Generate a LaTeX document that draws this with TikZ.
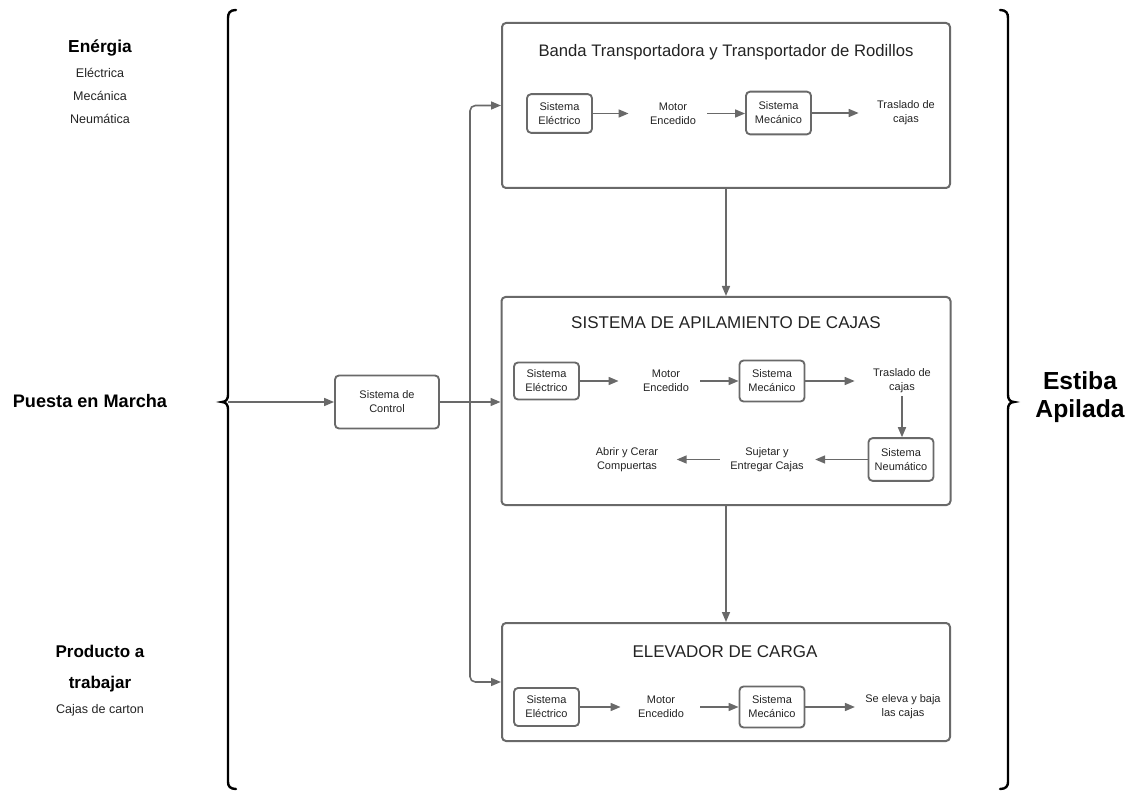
\documentclass[tikz,border=0pt]{standalone}
\usepackage{fontspec}
\setmainfont{Liberation Sans}
\usetikzlibrary{arrows.meta}

\definecolor{linegray}{RGB}{105,105,105}
\definecolor{txtgray}{RGB}{35,35,35}

\newcommand{\txtS}{\fontsize{8.25}{10.5}\selectfont}
\newcommand{\txtT}{\fontsize{12.75}{15}\selectfont}

\tikzset{every picture/.style={line width=0.75pt}}
\tikzset{
  bigbox/.style={draw=linegray, line width=1.5pt, rounded corners=3pt, inner sep=0pt},
  sysbox/.style={draw=linegray, line width=1.4pt, rounded corners=3pt, align=center,
    minimum width=48.75pt, minimum height=29pt, inner sep=0.75pt, font=\txtS, text=txtgray},
  plaintxt/.style={align=center, inner sep=0pt, font=\txtS, text=txtgray},
  titletxt/.style={inner sep=0.75pt, font=\txtT, text=txtgray},
  flow/.style={draw=linegray, line width=1.2pt, -{Triangle[length=7.5pt,width=6pt]}},
  brace/.style={draw=black, line width=1.8pt, line cap=round}
}

\begin{document}
\begin{tikzpicture}[x=0.75pt,y=0.75pt,yscale=-1.0,xscale=1.0]
    \useasboundingbox (0,0) rectangle (1135,791);

    % Left column
    \node [font=\fontsize{13}{15}\selectfont\bfseries] (energia) at (100,48) {Enérgia};
    \node [align=center, font=\fontsize{9.4}{17.25}\selectfont, text=txtgray] (tipos) at (100,96) {Eléctrica\\Mecánica\\Neumática};
    \node [font=\fontsize{13.6}{15}\selectfont\bfseries] (puesta) at (90,401) {Puesta en Marcha};
    \node [align=center, font=\fontsize{12.75}{23.25}\selectfont\bfseries] (producto) at (100,669) {Producto a\\trabajar};
    \node [font=\fontsize{9.4}{12}\selectfont, text=txtgray] (cajas) at (100,710) {Cajas de carton};

    % Braces
    \draw [brace] (236,10) .. controls (230,10) and (228,13) .. (228,18) -- (228,395) .. controls (228,399) and (226,402) .. (222,402) .. controls (226,402) and (228,405) .. (228,409) -- (228,782) .. controls (228,786) and (230,789) .. (236,789);
    \draw [brace] (1000,10) .. controls (1006,10) and (1008,13) .. (1008,18) -- (1008,395) .. controls (1008,399) and (1010,402) .. (1014,402) .. controls (1010,402) and (1008,405) .. (1008,409) -- (1008,782) .. controls (1008,786) and (1006,789) .. (1000,789);
    \coordinate (lbtip) at (228,402);

    % Right label
    \node [align=center, font=\fontsize{18.5}{21}\selectfont\bfseries] (estiba) at (1080,397) {Estiba\\Apilada};

    % Control
    \node [sysbox, minimum width=78pt, minimum height=39.75pt] (ctrl) at (387,402) {Sistema de\\Control};

    % Main boxes
    \node [bigbox, minimum width=336pt, minimum height=123.75pt] (box1) at (726,105.5) {};
    \node [bigbox, minimum width=336.75pt, minimum height=156pt] (box2) at (726,401) {};
    \node [bigbox, minimum width=336pt, minimum height=88.5pt] (box3) at (726,682) {};

    \node [titletxt, font=\fontsize{12.5}{15}\selectfont] (title1) at (726,52) {Banda Transportadora y Transportador de Rodillos};
    \node [titletxt] (title2) at (726,323) {SISTEMA DE APILAMIENTO DE CAJAS};
    \node [titletxt] (title3) at (725,652) {ELEVADOR DE CARGA};

    % Banda transportadora
    \node [sysbox] (e1) at (559.5,113.5) {Sistema\\Eléctrico};
    \node [plaintxt] (m1) at (673,113.5) {Motor\\Encedido};
    \node [sysbox, minimum height=32pt] (k1) at (778.5,113) {Sistema\\Mecánico};
    \node [plaintxt] (t1) at (906,113) {Traslado de\\cajas};
    \draw [flow, shorten >=15.75pt] (e1) -- (m1);
    \draw [flow, shorten <=8.25pt] (m1) -- (m1 -| k1.west);
    \draw [flow, shorten >=13.5pt] (k1) -- (t1);

    % Apilamiento
    \node [sysbox, minimum height=27.75pt] (e2) at (546.5,381) {Sistema\\Eléctrico};
    \node [plaintxt] (m2) at (666,381) {Motor\\Encedido};
    \node [sysbox, minimum height=30.75pt] (k2) at (772,381) {Sistema\\Mecánico};
    \node [plaintxt] (t2) at (902,381) {Traslado de\\cajas};
    \node [sysbox, minimum height=32pt] (n2) at (901,459.5) {Sistema\\Neumático};
    \node [plaintxt] (s2) at (767,459.5) {Sujetar y\\Entregar Cajas};
    \node [plaintxt] (a2) at (627,459.5) {Abrir y Cerar\\Compuertas};
    \draw [flow, shorten >=18pt] (e2) -- (m2);
    \draw [flow, shorten <=8.25pt] (m2) -- (k2);
    \draw [flow, shorten >=13.5pt] (k2) -- (t2);
    \draw [flow, shorten <=2pt] (t2.south) -- (t2.south |- n2.north);
    \draw [flow, shorten >=8.25pt] (n2) -- (s2);
    \draw [flow, shorten <=7.5pt, shorten >=13.5pt] (s2) -- (a2);

    % Elevador
    \node [sysbox, minimum height=28.5pt] (e3) at (546.5,707) {Sistema\\Eléctrico};
    \node [plaintxt] (m3) at (661,707) {Motor\\Encedido};
    \node [sysbox, minimum height=30.75pt] (k3) at (772,707) {Sistema\\Mecánico};
    \node [plaintxt] (t3) at (903,707) {Se eleva y baja\\las cajas};
    \draw [flow, shorten >=12.75pt] (e3) -- (m3);
    \draw [flow, shorten <=12pt] (m3) -- (k3);
    \draw [flow, shorten >=7.5pt] (k3) -- (t3);

    % Connections
    \coordinate (jn) at (470,402);
    \draw [flow] (lbtip) -- (ctrl);
    \draw [flow] (ctrl) -- (ctrl -| box2.west);
    \draw [flow, rounded corners=4pt] (jn) |- (box1.west);
    \draw [flow, rounded corners=4pt] (jn) |- (box3.west);
    \draw [flow] (box1) -- (box2);
    \draw [flow] (box2) -- (box3);
\end{tikzpicture}
\end{document}
